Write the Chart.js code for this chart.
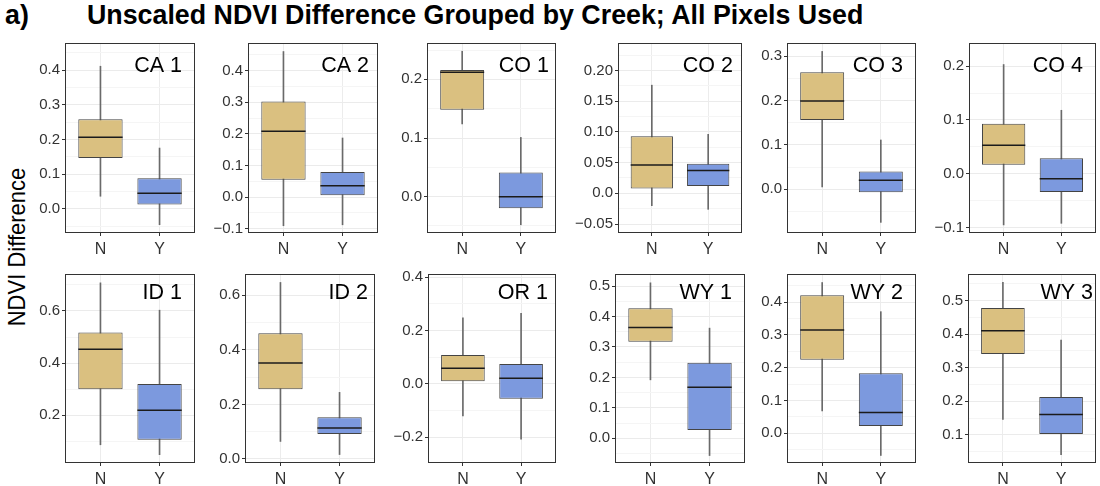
<!DOCTYPE html>
<html><head><meta charset="utf-8">
<script src="https://cdn.jsdelivr.net/npm/chart.js@4.4.1/dist/chart.umd.min.js"></script>
<style>
html,body{margin:0;padding:0;background:#fff;width:1100px;height:486px;overflow:hidden;font-family:"Liberation Sans",Arial,sans-serif;}
.t{position:absolute;white-space:pre;color:#000;}
#tag{left:5px;top:1px;font-weight:bold;font-size:26.8px;line-height:28px;}
#title{left:87px;top:1px;font-weight:bold;font-size:26.8px;line-height:28px;}
#ylab{left:-133px;top:233px;width:300px;text-align:center;font-size:22px;line-height:28px;transform:rotate(-90deg) scaleY(1.12);transform-origin:150px 14px;}
canvas{position:absolute;}
</style></head><body>
<div class="t" id="tag">a)</div>
<div class="t" id="title">Unscaled NDVI Difference Grouped by Creek; All Pixels Used</div>
<div class="t" id="ylab">NDVI Difference</div>
<script>
// ---------- data ----------
const creeks = ['CA 1','CA 2','CO 1','CO 2','CO 3','CO 4','ID 1','ID 2','OR 1','WY 1','WY 2','WY 3'];
const groups = ['N','Y'];
// group N
const nMin = [0.036,-0.091,0.124,-0.020,0.005,-0.095,0.086,0.064,-0.120,0.192,0.068,0.146];
const nQ1  = [0.146, 0.055,0.148, 0.008,0.156, 0.017,0.299,0.255, 0.010,0.317,0.224,0.341];
const nMed = [0.206, 0.208,0.212, 0.046,0.199, 0.053,0.453,0.352, 0.058,0.364,0.315,0.410];
const nQ3  = [0.258, 0.303,0.216, 0.093,0.264, 0.093,0.517,0.461, 0.108,0.427,0.421,0.478];
const nMax = [0.411, 0.461,0.248, 0.176,0.311, 0.203,0.708,0.647, 0.248,0.511,0.460,0.554];
// group Y
const yMin = [-0.046,-0.088,-0.048,-0.026,-0.075,-0.092,0.048,0.016,-0.208,-0.057,-0.068,0.041];
const yQ1  = [ 0.012, 0.006,-0.020, 0.012,-0.007,-0.034,0.105,0.091,-0.056, 0.027, 0.022,0.103];
const yMed = [ 0.045, 0.036, 0.000, 0.037, 0.020,-0.009,0.219,0.113, 0.021, 0.168, 0.063,0.161];
const yQ3  = [ 0.088, 0.079, 0.041, 0.048, 0.040, 0.029,0.319,0.153, 0.074, 0.248, 0.183,0.213];
const yMax = [ 0.175, 0.187, 0.101, 0.096, 0.111, 0.118,0.603,0.244, 0.264, 0.362, 0.371,0.382];
// y axis limits
const axisMin = [-0.070,-0.114,-0.062,-0.0645,-0.099,-0.110,0.016,-0.015,-0.297,-0.0815,-0.091,0.0165];
const axisMax = [ 0.478, 0.488, 0.262, 0.2446, 0.330, 0.243,0.742, 0.678, 0.412, 0.540, 0.486,0.579];
// y tick values and labels
const tickValues = [
  [0,0.1,0.2,0.3,0.4],[-0.1,0,0.1,0.2,0.3,0.4],[0,0.1,0.2],[-0.05,0,0.05,0.1,0.15,0.2],[0,0.1,0.2,0.3],[-0.1,0,0.1,0.2],
  [0.2,0.4,0.6],[0,0.2,0.4,0.6],[-0.2,0,0.2,0.4],[0,0.1,0.2,0.3,0.4,0.5],[0,0.1,0.2,0.3,0.4],[0.1,0.2,0.3,0.4,0.5]
];
const tickLabels = [
  ['0.0','0.1','0.2','0.3','0.4'],['\u22120.1','0.0','0.1','0.2','0.3','0.4'],['0.0','0.1','0.2'],
  ['\u22120.05','0.0','0.05','0.10','0.15','0.20'],['0.0','0.1','0.2','0.3'],['\u22120.1','0.0','0.1','0.2'],
  ['0.2','0.4','0.6'],['0.0','0.2','0.4','0.6'],['\u22120.2','0.0','0.2','0.4'],
  ['0.0','0.1','0.2','0.3','0.4','0.5'],['0.0','0.1','0.2','0.3','0.4'],['0.1','0.2','0.3','0.4','0.5']
];

// ---------- layout (page pixels: plot left, top, right, bottom, label right, label baseline) ----------
const layout = [
  [65,42,195,233,182,72],[248,42,378,233,369,72],[427,42,556,233,549,72],
  [618,42,742,233,733,72],[787,42,916,233,903,72],[969,42,1096,233,1083,72],
  [65,273,195,463,182,299],[245,273,375,463,368,299],[428,273,556,463,548,299],
  [615,273,745,463,732,299],[787,273,916,463,903,299],[968,273,1096,463,1093,299]
];
const PADL = 60, PADT = 10, PADR = 6, PADB = 34;
const COL_N = 'rgb(218,192,128)', COL_Y = 'rgb(124,153,222)';

Chart.defaults.font.family = '"Liberation Sans", Arial, sans-serif';

const extras = {
  id: 'extras',
  afterDatasetsDraw(chart) {
    const i = chart.options.plugins.extras.panel;
    const ctx = chart.ctx, ys = chart.scales.y;
    const meds = [nMed[i], yMed[i]];
    ctx.save();
    ctx.strokeStyle = '#1b1b1b'; ctx.lineWidth = 1.5;
    chart.getDatasetMeta(0).data.forEach((bar, k) => {
      const y = ys.getPixelForValue(meds[k]);
      ctx.beginPath();
      ctx.moveTo(bar.x - bar.width / 2, y);
      ctx.lineTo(bar.x + bar.width / 2, y);
      ctx.stroke();
    });
    ctx.restore();
  },
  afterDraw(chart) {
    const i = chart.options.plugins.extras.panel;
    const L = layout[i];
    const a = chart.chartArea, ctx = chart.ctx;
    ctx.save();
    ctx.strokeStyle = '#333'; ctx.lineWidth = 1;
    ctx.strokeRect(Math.round(a.left) + 0.5, Math.round(a.top) + 0.5, Math.round(a.right - a.left) - 1, Math.round(a.bottom - a.top) - 1);
    ctx.fillStyle = '#000';
    ctx.font = '21.5px "Liberation Sans", Arial, sans-serif';
    ctx.textAlign = 'right'; ctx.textBaseline = 'alphabetic';
    ctx.fillText(creeks[i], L[4] - (L[0] - PADL), L[5] - (L[1] - PADT));
    ctx.restore();
  }
};

creeks.forEach((name, i) => {
  const [l, t, r, b] = layout[i];
  const cv = document.createElement('canvas');
  const w = r - l + PADL + PADR, h = b - t + PADT + PADB;
  cv.width = w; cv.height = h;
  cv.style.width = w + 'px'; cv.style.height = h + 'px';
  cv.style.left = (l - PADL) + 'px'; cv.style.top = (t - PADT) + 'px';
  document.body.appendChild(cv);

  const major = tickValues[i];
  const step = major.length > 1 ? major[1] - major[0] : 0.1;

  new Chart(cv, {
    type: 'bar',
    data: {
      datasets: [
        {
          label: 'box',
          data: [{x: 1, y: [nQ1[i], nQ3[i]]}, {x: 2, y: [yQ1[i], yQ3[i]]}],
          backgroundColor: [COL_N, COL_Y],
          borderColor: '#444',
          borderWidth: 1,
          borderSkipped: false,
          grouped: false,
          categoryPercentage: 1,
          barPercentage: 0.75
        },
        {
          label: 'whisker',
          data: [{x: 1, y: [nMin[i], nMax[i]]}, {x: 2, y: [yMin[i], yMax[i]]}],
          backgroundColor: '#6a6a6a',
          borderWidth: 0,
          grouped: false,
          barThickness: 1
        }
      ]
    },
    options: {
      responsive: false,
      animation: false,
      devicePixelRatio: 1,
      layout: {padding: {left: 0, top: PADT, right: PADR, bottom: 0}},
      plugins: {legend: {display: false}, tooltip: {enabled: false}, extras: {panel: i}},
      scales: {
        x: {
          type: 'linear', min: 0.4, max: 2.6, offset: false,
          afterBuildTicks: s => { s.ticks = groups.map((g, k) => ({value: k + 1})); },
          afterFit: s => { s.height = PADB; },
          ticks: {callback: v => groups[Math.round(v) - 1], color: '#333', font: {size: 16}, padding: 4, maxRotation: 0, autoSkip: false},
          grid: {offset: false, color: '#ececec', tickColor: '#333', tickLength: 3, lineWidth: 1},
          border: {display: false}
        },
        y: {
          type: 'linear', min: axisMin[i], max: axisMax[i],
          afterBuildTicks: s => {
            const ticks = [];
            major.forEach(v => ticks.push({value: v, minorTick: false}));
            const cands = [major[0] - step / 2];
            major.forEach(v => cands.push(v + step / 2));
            cands.forEach(v => { if (v > axisMin[i] && v < axisMax[i]) ticks.push({value: v, minorTick: true}); });
            ticks.sort((p, q) => p.value - q.value);
            s.ticks = ticks;
          },
          afterFit: s => { s.width = PADL; },
          ticks: {
            callback: (v) => {
              const k = major.findIndex(m => Math.abs(m - v) < 1e-9);
              return k >= 0 ? tickLabels[i][k] : '';
            },
            color: '#333', font: {size: 15}, padding: 2, autoSkip: false
          },
          grid: {
            color: c => (c.tick && c.tick.minorTick) ? '#f5f5f5' : '#ebebeb',
            tickColor: c => (c.tick && c.tick.minorTick) ? 'rgba(0,0,0,0)' : '#333',
            tickLength: 3, lineWidth: 1
          },
          border: {display: false}
        }
      }
    },
    plugins: [extras]
  });
});
</script>
</body></html>
